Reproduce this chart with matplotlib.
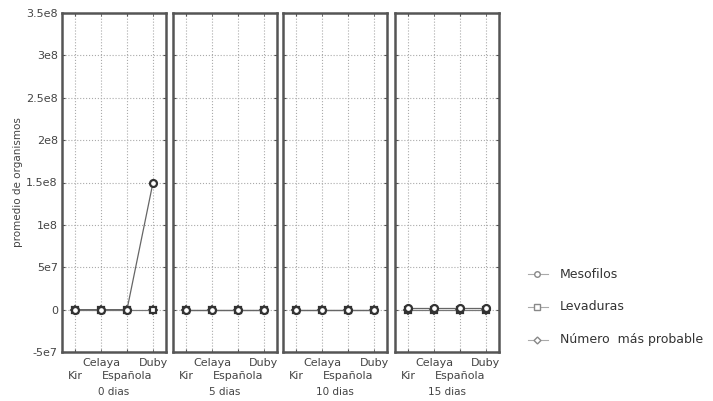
import numpy as np
import matplotlib
matplotlib.use('Agg')
import matplotlib.pyplot as plt

# Data
variedades = ['Kir', 'Celaya', 'Española', 'Duby']
dias = ['0 dias', '5 dias', '10 dias', '15 dias']
mesofilos = [
    [0, 0, 0, 1.5e8],
    [0, 0, 0, 0],
    [0, 0, 0, 0],
    [2e6, 2e6, 2e6, 2e6],
]
levaduras = [
    [0, 0, 0, 0],
    [0, 0, 0, 0],
    [0, 0, 0, 0],
    [0, 0, 0, 0],
]
nmp = [
    [0, 0, 0, 0],
    [0, 0, 0, 0],
    [0, 0, 0, 0],
    [0, 0, 0, 0],
]
yticks = [-5e7, 0, 5e7, 1e8, 1.5e8, 2e8, 2.5e8, 3e8, 3.5e8]
ytick_labels = ['-5e7', '0', '5e7', '1e8', '1.5e8', '2e8', '2.5e8', '3e8', '3.5e8']

fig = plt.figure(figsize=(7.13, 4.01), dpi=100)
W, H = 713, 401
lefts = [62, 173, 283, 395]
pw = 104
top, bottom = 13, 352
txt = '#444444'
x = np.arange(len(variedades))

for i, d in enumerate(dias):
    ax = fig.add_axes([lefts[i] / W, 1 - bottom / H, pw / W, (bottom - top) / H])
    ax.plot(x, nmp[i], marker='D', ms=4, mfc='white', mec='#333333', mew=1.3,
            color='#777777', lw=0.8)
    ax.plot(x, levaduras[i], marker='s', ms=5, mfc='white', mec='#333333', mew=1.6,
            color='#777777', lw=0.8)
    ax.plot(x, mesofilos[i], marker='o', ms=5, mfc='white', mec='#333333', mew=1.6,
            color='#666666', lw=0.9)
    ax.set_xlim(-0.5, 3.5)
    ax.set_ylim(-5e7, 3.5e8)
    ax.set_yticks(yticks)
    # two staggered rows of category labels
    ax.set_xticks(x[0::2])
    ax.set_xticklabels(variedades[0::2])
    ax.set_xticks(x[1::2], minor=True)
    ax.set_xticklabels(variedades[1::2], minor=True)
    ax.grid(True, which='both', axis='x', ls=':', color='#aaaaaa', lw=0.8)
    ax.grid(True, axis='y', ls=':', color='#aaaaaa', lw=0.8)
    ax.tick_params(axis='both', which='both', direction='in', length=2,
                   color='#555555', labelsize=8, labelcolor=txt,
                   top=True, right=True)
    ax.tick_params(axis='x', which='major', pad=14)
    ax.tick_params(axis='x', which='minor', pad=4)
    ax.tick_params(axis='y', pad=3)
    if i == 0:
        ax.set_yticklabels(ytick_labels)
        ax.set_ylabel('promedio de organismos', fontsize=7.5, color=txt, labelpad=2)
    else:
        ax.set_yticklabels([])
    for s in ax.spines.values():
        s.set_linewidth(1.8)
        s.set_color('#555555')
    ax.set_xlabel(d, fontsize=7.5, color=txt, labelpad=4)

# legend
lax = fig.add_axes([520 / W, 1 - 360 / H, 193 / W, 110 / H])
lax.axis('off')
lax.set_xlim(520, 713)
lax.set_ylim(360, 250)
names = ['Mesofilos', 'Levaduras', 'Número  más probable']
markers = ['o', 's', 'D']
ys = [274, 307, 340]
for nm, mk, yy in zip(names, markers, ys):
    lax.plot([528, 548], [yy, yy], color='#aaaaaa', lw=0.8)
    lax.plot([537], [yy], marker=mk, ms=4 if mk != 'D' else 3.5, mfc='white',
             mec='#888888', mew=1.0)
    lax.text(560, yy, nm, fontsize=9, color='#333333', va='center')

fig.savefig('out.png', dpi=100)
